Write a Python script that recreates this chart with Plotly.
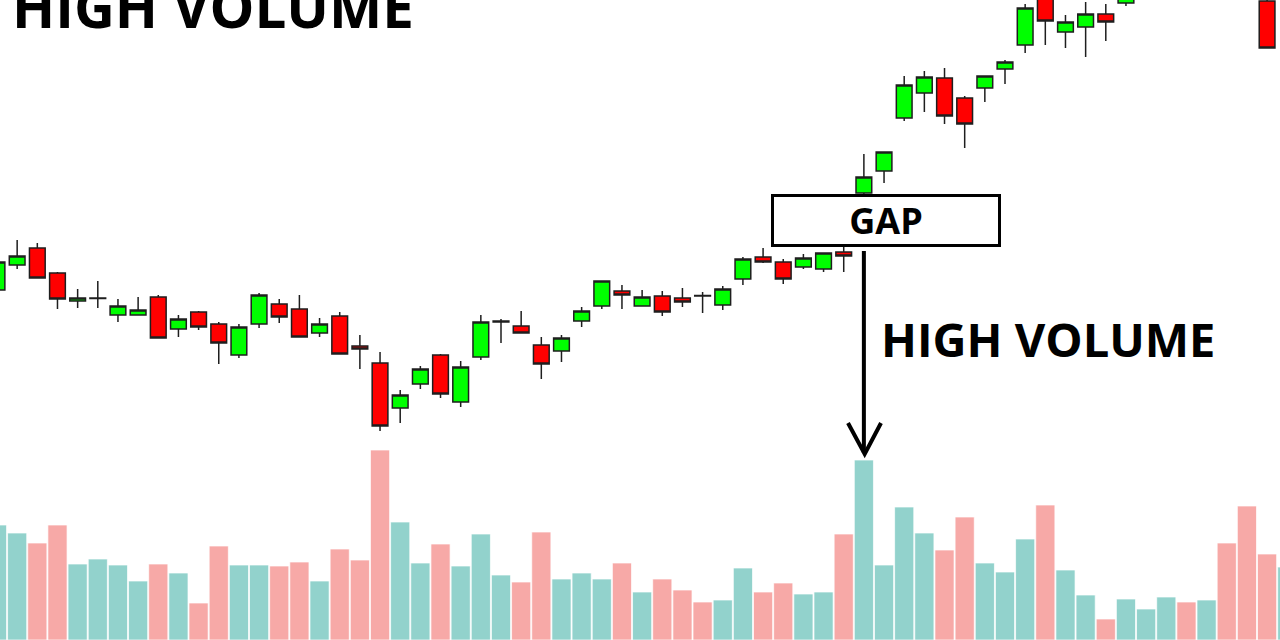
import plotly.graph_objects as go

# ---- data ----
idx = list(range(64))
opens = [135.0, 137.5, 139.2, 136.7, 133.9, 134.15, 132.5, 132.5, 134.3, 131.1,
         132.8, 131.6, 128.5, 131.6, 133.6, 133.1, 130.7, 132.4, 129.4, 127.7,
         123.2, 125.6, 128.5, 123.8, 128.3, 131.8, 131.4, 129.5, 128.9, 131.9,
         133.4, 134.9, 133.4, 134.4, 134.2, 134.45, 133.5, 136.1, 138.3, 137.8,
         137.3, 137.1, 138.8, 144.7, 146.9, 152.2, 154.7, 156.2, 154.2, 155.2,
         157.1, 159.5, 164.5, 160.8, 161.3, 162.6, 163.7, 165.2, 166.8, 168.6,
         167.5, 169.4, 167.8, 163.9]
highs = [138.2, 140.0, 139.7, 136.8, 135.1, 135.9, 134.1, 134.3, 134.5, 132.5,
         132.9, 131.8, 131.6, 134.7, 134.1, 134.5, 132.2, 132.8, 130.5, 128.8,
         125.0, 127.4, 128.6, 127.9, 132.5, 132.1, 132.9, 130.3, 130.5, 133.3,
         135.9, 135.5, 135.0, 134.9, 135.2, 134.8, 135.4, 138.3, 139.2, 138.1,
         138.6, 138.7, 139.3, 148.6, 148.8, 156.4, 156.9, 157.2, 154.4, 156.4,
         158.0, 163.6, 165.0, 162.5, 163.8, 163.6, 165.4, 167.5, 169.0, 169.2,
         169.8, 170.0, 168.2, 165.0]
lows = [134.7, 137.1, 136.2, 133.1, 133.2, 133.2, 131.8, 132.5, 130.2, 130.3,
        131.0, 127.6, 128.2, 131.2, 131.7, 130.3, 130.3, 128.6, 127.1, 120.9,
        121.7, 125.1, 124.2, 123.3, 128.0, 129.7, 130.7, 126.1, 127.8, 131.3,
        133.1, 133.1, 133.4, 132.4, 133.3, 132.7, 133.0, 135.5, 137.7, 135.6,
        137.1, 136.8, 136.8, 144.6, 145.7, 151.9, 152.8, 151.6, 149.2, 153.8,
        155.6, 158.7, 159.5, 159.2, 158.3, 159.9, 163.4, 164.8, 166.0, 166.9,
        167.0, 167.0, 165.0, 159.2]
closes = [137.8, 138.4, 136.2, 134.1, 134.2, 134.2, 133.4, 133.0, 130.2, 132.1,
          131.3, 129.7, 131.3, 134.5, 132.3, 130.3, 131.6, 128.6, 129.1, 121.4,
          124.5, 127.1, 124.6, 127.3, 131.8, 131.9, 130.7, 127.6, 130.2, 132.9,
          135.9, 134.5, 134.3, 132.8, 133.8, 134.4, 135.1, 138.1, 137.8, 136.1,
          138.2, 138.7, 138.4, 146.3, 148.8, 155.5, 156.3, 152.4, 151.6, 156.4,
          157.8, 163.2, 161.9, 161.8, 162.6, 161.8, 165.0, 167.0, 168.5, 167.4,
          169.3, 167.6, 165.6, 159.2]
vol_idx = list(range(65))
volumes = [115, 107, 97, 115, 76, 81, 75, 59, 76, 67,
           37, 94, 75, 75, 74, 78, 59, 91, 80, 190,
           118, 77, 96, 74, 106, 65, 58, 108, 61, 67,
           61, 77, 48, 61, 50, 38, 40, 72, 48, 57,
           46, 48, 106, 180, 75, 133, 107, 90, 123, 77,
           68, 101, 135, 70, 45, 21, 41, 31, 43, 38,
           40, 97, 134, 86, 73]
vol_up = [c >= o for o, c in zip(opens, closes)] + [True]

TEAL = "#92d2cc"
PINK = "#f7a9a7"

fig = go.Figure()
fig.add_trace(go.Bar(
    x=vol_idx, y=volumes, yaxis="y2",
    marker=dict(color=[TEAL if u else PINK for u in vol_up],
                line=dict(color="rgba(255,255,255,0.7)", width=1)),
    showlegend=False, hoverinfo="skip"))
fig.add_trace(go.Candlestick(
    x=idx, open=opens, high=highs, low=lows, close=closes,
    increasing=dict(fillcolor="#00ff00", line=dict(color="#1e1e1e", width=1.5)),
    decreasing=dict(fillcolor="#ff0000", line=dict(color="#1e1e1e", width=1.5)),
    showlegend=False))

W, H = 1280, 640
def px(xp):
    return xp / W
def py(yp):
    return 1 - yp / H

fig.update_layout(
    width=W, height=H, margin=dict(l=0, r=0, t=0, b=0),
    paper_bgcolor="white", plot_bgcolor="white",
    bargap=0.05, boxgap=0.0, boxgroupgap=0.22,
    xaxis=dict(range=[0.149, 63.641], visible=False, rangeslider=dict(visible=False)),
    yaxis=dict(range=[100, 164], visible=False),
    yaxis2=dict(range=[0, 640], visible=False, overlaying="y"),
    showlegend=False,
    font=dict(family="Open Sans"),
)

# annotations
fig.add_annotation(xref="paper", yref="paper", x=px(10), y=py(6), xanchor="left", yanchor="middle",
                   text="HIGH VOLUME", showarrow=False,
                   font=dict(family="Open Sans", size=56.5, color="black", weight="bold"))
fig.add_annotation(xref="paper", yref="paper", x=px(879), y=py(339), xanchor="left", yanchor="middle",
                   text="HIGH VOLUME", showarrow=False,
                   font=dict(family="Open Sans", size=47, color="black", weight="bold"))
fig.add_annotation(xref="paper", yref="paper", x=px(885.7), y=py(220.4), xanchor="center", yanchor="middle",
                   text="GAP", showarrow=False, width=224, height=47, borderwidth=3, borderpad=0,
                   bordercolor="black", bgcolor="white",
                   font=dict(family="Open Sans", size=36, color="black", weight="bold"))

# arrow from the gap box down to the high-volume bar
fig.add_shape(type="line", xref="x", yref="paper", x0=43, x1=43, y0=py(251), y1=py(453),
              line=dict(color="black", width=4))
fig.add_shape(type="path", xref="paper", yref="paper",
              path=f"M {px(848)} {py(423)} L {px(864.7)} {py(454)} L {px(881)} {py(423)}",
              line=dict(color="black", width=4))

fig.write_html("out.html", config={"displayModeBar": False},
               post_script="document.body.style.margin='0';document.body.style.overflow='hidden';")
